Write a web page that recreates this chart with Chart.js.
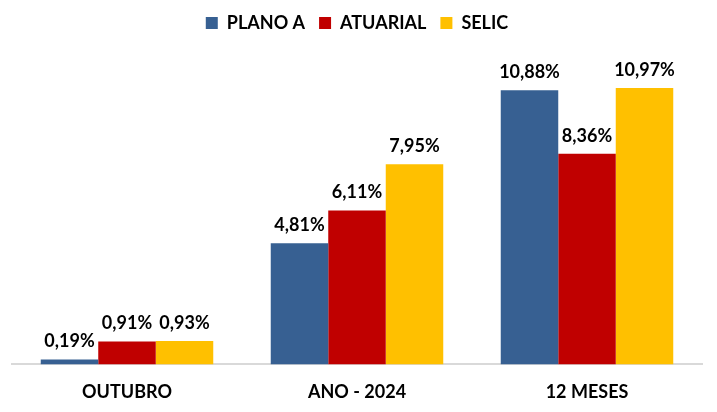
<!DOCTYPE html>
<html>
<head>
<meta charset="utf-8">
<script src="https://cdn.jsdelivr.net/npm/chart.js@4/dist/chart.umd.min.js"></script>
<style>
  html, body { margin: 0; padding: 0; background: #fff; }
  #wrap { width: 717px; height: 412px; }
</style>
</head>
<body>
<div id="wrap"><canvas id="myChart"></canvas></div>
<script>
var categories = ["OUTUBRO", "ANO - 2024", "12 MESES"];
var planoA = [0.19, 4.81, 10.88];
var atuarial = [0.91, 6.11, 8.36];
var selic = [0.93, 7.95, 10.97];
var seriesNames = ["PLANO A", "ATUARIAL", "SELIC"];
var barColors = ["#376092", "#C00000", "#FFC000"];

var fontFamily = "Lato, 'Open Sans', sans-serif";

// draws the value above each bar
var valueLabels = {
  id: "valueLabels",
  afterDatasetsDraw: function(chart) {
    var ctx = chart.ctx;
    ctx.save();
    ctx.font = "bold 18px " + fontFamily;
    ctx.fillStyle = "#000";
    ctx.textAlign = "center";
    ctx.textBaseline = "bottom";
    chart.data.datasets.forEach(function(ds, i) {
      chart.getDatasetMeta(i).data.forEach(function(bar, j) {
        var txt = ds.data[j].toFixed(2).replace(".", ",") + "%";
        ctx.fillText(txt, bar.x, bar.y - 9);
      });
    });
    ctx.restore();
  }
};

new Chart("myChart", {
  type: "bar",
  data: {
    labels: categories,
    datasets: [
      { label: seriesNames[0], data: planoA, backgroundColor: barColors[0] },
      { label: seriesNames[1], data: atuarial, backgroundColor: barColors[1] },
      { label: seriesNames[2], data: selic, backgroundColor: barColors[2] }
    ]
  },
  options: {
    responsive: true,
    maintainAspectRatio: false,
    animation: false,
    layout: { padding: { left: 12, right: 15, top: 0, bottom: 0 } },
    datasets: {
      bar: { barPercentage: 1, categoryPercentage: 0.75 }
    },
    plugins: {
      legend: {
        position: "top",
        labels: {
          boxWidth: 12,
          boxHeight: 12,
          padding: 14,
          color: "#000",
          font: { family: fontFamily, size: 18, weight: "bold" }
        }
      },
      tooltip: { enabled: false }
    },
    scales: {
      x: {
        grid: { display: false },
        border: { color: "#D9D9D9", width: 2 },
        ticks: {
          color: "#000",
          padding: 9,
          font: { family: fontFamily, size: 18, weight: "bold" }
        }
      },
      y: {
        display: false,
        min: 0,
        max: 12.8
      }
    }
  },
  plugins: [valueLabels]
});
</script>
</body>
</html>
